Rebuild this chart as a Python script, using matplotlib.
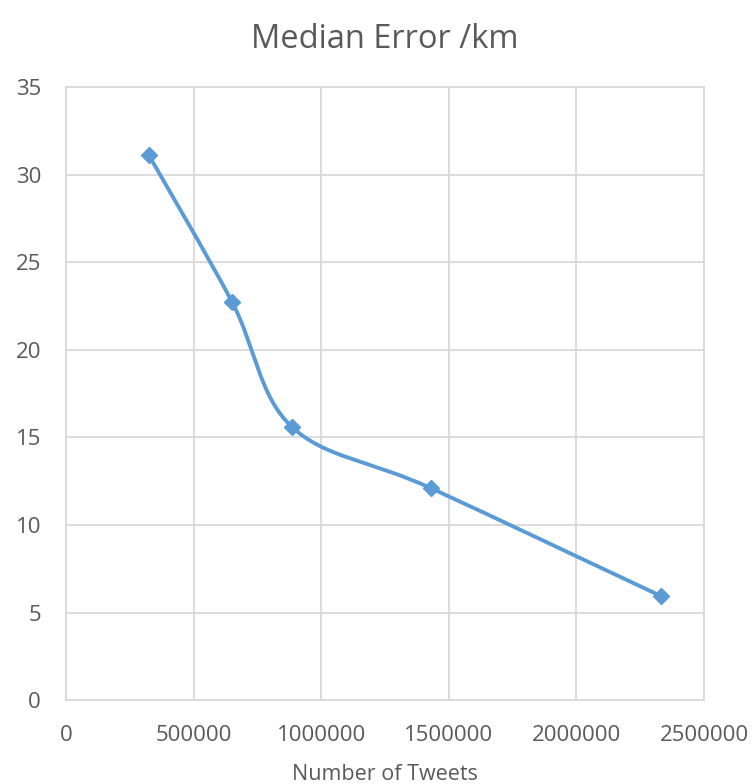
import matplotlib.pyplot as plt
import numpy as np
from matplotlib.path import Path
from matplotlib.patches import PathPatch

plt.rcParams['font.family'] = ['Open Sans', 'DejaVu Sans']

# data
tweets = [325000, 650000, 885000, 1430000, 2330000]
median_error = [31.1, 22.75, 15.6, 12.1, 5.95]
x_ticks = [0, 500000, 1000000, 1500000, 2000000, 2500000]
y_ticks = [0, 5, 10, 15, 20, 25, 30, 35]

blue = '#5B9BD5'
grid = '#D9D9D9'
text = '#595959'


def smooth_path(xs, ys):
    # Excel style smoothed line: Catmull-Rom segments as cubic Beziers
    p = np.column_stack([xs, ys]).astype(float)
    verts = [p[0]]
    codes = [Path.MOVETO]
    n = len(p)
    for i in range(n - 1):
        p0 = p[max(i - 1, 0)]
        p1, p2 = p[i], p[i + 1]
        p3 = p[min(i + 2, n - 1)]
        c1 = p1 + (p2 - p0) / 6.0
        c2 = p2 - (p3 - p1) / 6.0
        verts += [c1, c2, p2]
        codes += [Path.CURVE4] * 3
    return Path(verts, codes)


fig = plt.figure(figsize=(7.55, 7.84), dpi=100)
ax = fig.add_axes([0.0874, 0.107, 0.845, 0.782])

ax.add_patch(PathPatch(smooth_path(tweets, median_error), facecolor='none',
                       edgecolor=blue, lw=2.8, capstyle='round', zorder=3))
ax.plot(tweets, median_error, ls='none', marker='D', ms=8.5, color=blue, zorder=4)

ax.set_xlim(0, 2500000)
ax.set_ylim(0, 35)
ax.set_xticks(x_ticks)
ax.set_xticklabels([str(v) for v in x_ticks])
ax.set_yticks(y_ticks)
ax.set_yticklabels([str(v) for v in y_ticks])
ax.grid(True, color=grid, lw=1.3, zorder=0)
for s in ax.spines.values():
    s.set_color(grid)
    s.set_linewidth(1.3)
ax.tick_params(length=0, labelsize=16, colors=text, pad=18)

ax.set_title('Median Error /km', fontsize=23.5, color=text, pad=28)
ax.set_xlabel('Number of Tweets', fontsize=15.5, color=text, labelpad=13)

fig.savefig('out.png', dpi=100)
